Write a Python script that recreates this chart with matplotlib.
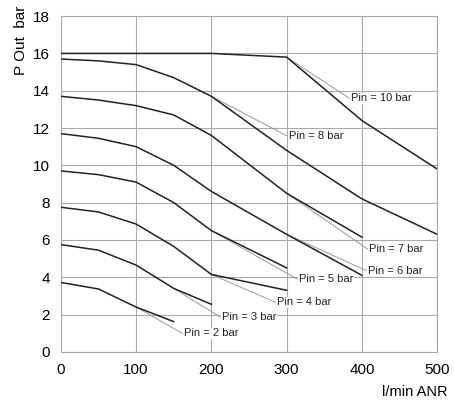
import matplotlib
matplotlib.use("Agg")
import matplotlib.pyplot as plt

plt.rcParams['font.family'] = ['Liberation Sans', 'DejaVu Sans']

flow = [0, 50, 100, 150, 200, 300, 400, 500]

pin10 = [16.0, 16.0, 16.0, 16.0, 16.0, 15.8, 12.4, 9.8]
pin8 = [15.7, 15.6, 15.4, 14.7, 13.7, 10.8, 8.2, 6.3]
pin7 = [13.7, 13.5, 13.2, 12.7, 11.6, 8.5, 6.15]
pin6 = [11.7, 11.45, 11.0, 10.0, 8.6, 6.3, 4.1]
pin5 = [9.7, 9.5, 9.1, 8.0, 6.5, 4.5]
pin4 = [7.75, 7.5, 6.85, 5.65, 4.15, 3.3]
pin3 = [5.75, 5.45, 4.65, 3.4, 2.55]
pin2 = [3.72, 3.37, 2.4, 1.62]

labels = ["Pin = 10 bar", "Pin = 8 bar", "Pin = 7 bar", "Pin = 6 bar",
          "Pin = 5 bar", "Pin = 4 bar", "Pin = 3 bar", "Pin = 2 bar"]
# leader start (on curve) and text position
lead_from = [(300, 15.8), (200, 13.7), (300, 8.5), (300, 6.3),
             (200, 6.5), (200, 4.15), (150, 3.4), (100, 2.4)]
text_at = [(385, 13.6), (303, 11.57), (410, 5.5), (408, 4.35),
           (316, 3.9), (287, 2.66), (214, 1.86), (163, 1.0)]

series = [pin10, pin8, pin7, pin6, pin5, pin4, pin3, pin2]

fig = plt.figure(figsize=(4.54, 4.03), dpi=100)
ax = fig.add_axes([0.134, 0.127, 0.829, 0.833])

for s in series:
    ax.plot(flow[:len(s)], s, color='#222222', lw=1.1, zorder=3)

for lab, (x0, y0), (x1, y1) in zip(labels, lead_from, text_at):
    ax.plot([x0, x1 - 2], [y0, y1], color='#999999', lw=0.7, zorder=2)
    ax.text(x1, y1, lab, fontsize=8, va='center', ha='left', color='#222222',
            bbox=dict(facecolor='white', edgecolor='none', pad=0.3), zorder=4)

ax.set_xlim(0, 500)
ax.set_ylim(0, 18)
ax.set_xticks(range(0, 501, 100))
ax.set_yticks(range(0, 19, 2))
ax.grid(True, color='#aaaaaa', lw=0.8)
ax.tick_params(length=0, labelsize=11, pad=8)
for sp in ax.spines.values():
    sp.set_color('#aaaaaa')
    sp.set_linewidth(0.8)

fig.text(0.046, 0.90, "P Out  bar", rotation=90, fontsize=11, ha='center', va='center')
fig.text(0.987, 0.027, "l/min ANR", fontsize=10.5, ha='right', va='center')

fig.savefig("out.png", dpi=100)
